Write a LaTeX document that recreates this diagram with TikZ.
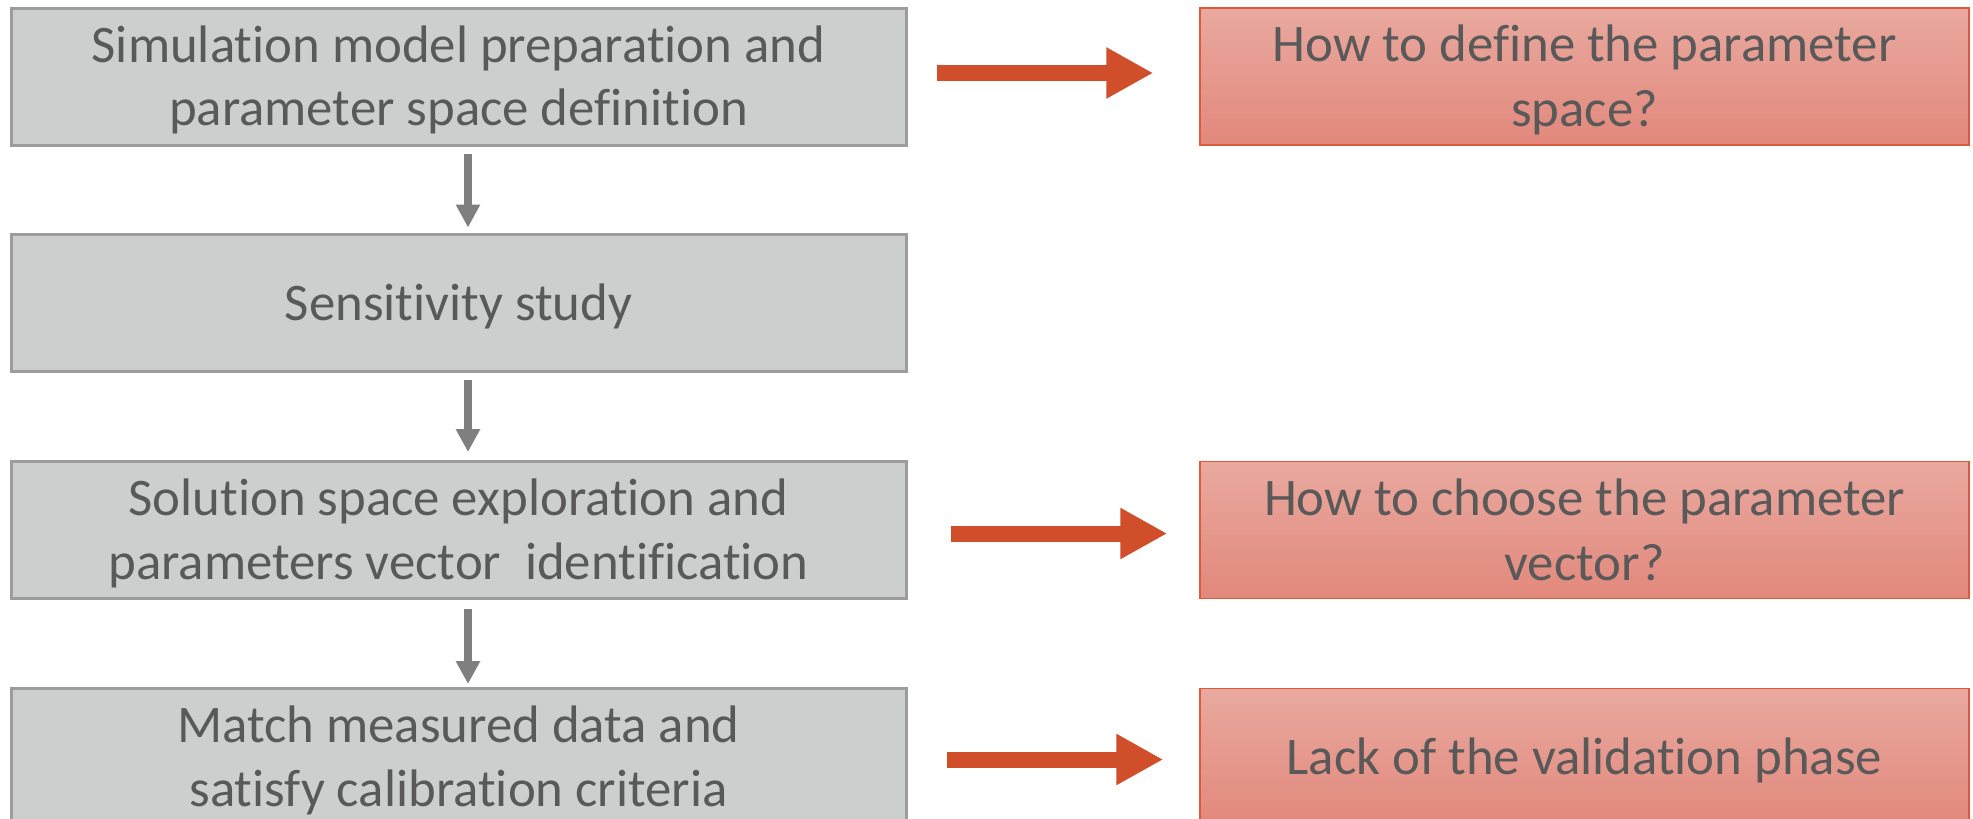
\documentclass[tikz,border=0pt]{standalone}
\usepackage{fontspec}
\setmainfont{Carlito}[RawFeature={-liga;-clig;-calt;-rlig;-dlig}]
\usetikzlibrary{arrows.meta,calc}
\definecolor{txtgray}{HTML}{595959}
\definecolor{boxgray}{HTML}{CDCFCE}
\definecolor{bordergray}{HTML}{9C9C9C}
\definecolor{redtop}{HTML}{E9A99F}
\definecolor{redbot}{HTML}{E2887C}
\definecolor{redborder}{HTML}{DC5A3C}
\definecolor{arrowred}{HTML}{D04F2A}
\definecolor{arrowgray}{HTML}{7F7F7F}
\newcommand\tstrut{\rule{0pt}{49pt}}
\newcommand\bstrut{\rule[-14pt]{0pt}{14pt}}
\tikzset{
  stepbox/.style={draw=bordergray, line width=3pt, fill=boxgray, minimum width=895pt, minimum height=137pt,
    inner sep=0pt, align=center, text=txtgray, font=\fontsize{52.8}{63.5}\selectfont},
  issuebox/.style={draw=redborder, line width=1.5pt, top color=redtop, bottom color=redbot, minimum width=769pt,
    minimum height=137pt, inner sep=0pt, align=center, text=txtgray,
    font=\fontsize{52.8}{65}\selectfont},
  downarrow/.style={draw=arrowgray, line width=8pt, -{Triangle[length=23pt,width=23pt]}},
  rightarrow/.style={draw=arrowred, line width=16pt, -{Triangle[length=47pt,width=48pt]}}
}
\begin{document}
\begin{tikzpicture}[x=1pt,y=-1pt]
\useasboundingbox (0,0) rectangle (1973,819);
\clip (0,0) rectangle (1973,819);
\fill[white] (0,0) rectangle (1973,819);
\node[stepbox] (g1) at (458.5,76.5) {\tstrut Simulation model preparation and\\parameter space definition\bstrut};
\node[stepbox] (g2) at (458.5,302.5) {\tstrut Sensitivity study\bstrut};
\node[stepbox] (g3) at (458.5,530) {\tstrut Solution space exploration and\\parameters vector\ \ identification\bstrut};
\node[stepbox] (g4) at (458.5,757) {\tstrut Match measured data and\\satisfy calibration criteria\bstrut};
\node[issuebox] (r1) at (1584.5,76.5) {\tstrut How to define the parameter\\space?\bstrut};
\node[issuebox] (r3) at (1584.5,530) {\tstrut How to choose the parameter\\vector?\bstrut};
\node[issuebox] (r4) at (1584.5,757) {\tstrut Lack of the validation phase\bstrut};
\draw[downarrow] ($(g1.south)+(9.5,7)$) -- ($(g2.north)+(9.5,-5)$);
\draw[downarrow] ($(g2.south)+(9.5,7)$) -- ($(g3.north)+(9.5,-8)$);
\draw[downarrow] ($(g3.south)+(9.5,9)$) -- ($(g4.north)+(9.5,-3)$);
\draw[rightarrow] ($(g1.east)+(29,-3.5)$) -- ($(r1.west)+(-46,-3.5)$);
\draw[rightarrow] ($(g3.east)+(43,3.5)$) -- ($(r3.west)+(-32,3.5)$);
\draw[rightarrow] ($(g4.east)+(39,2.5)$) -- ($(r4.west)+(-36,2.5)$);
\end{tikzpicture}
\end{document}
